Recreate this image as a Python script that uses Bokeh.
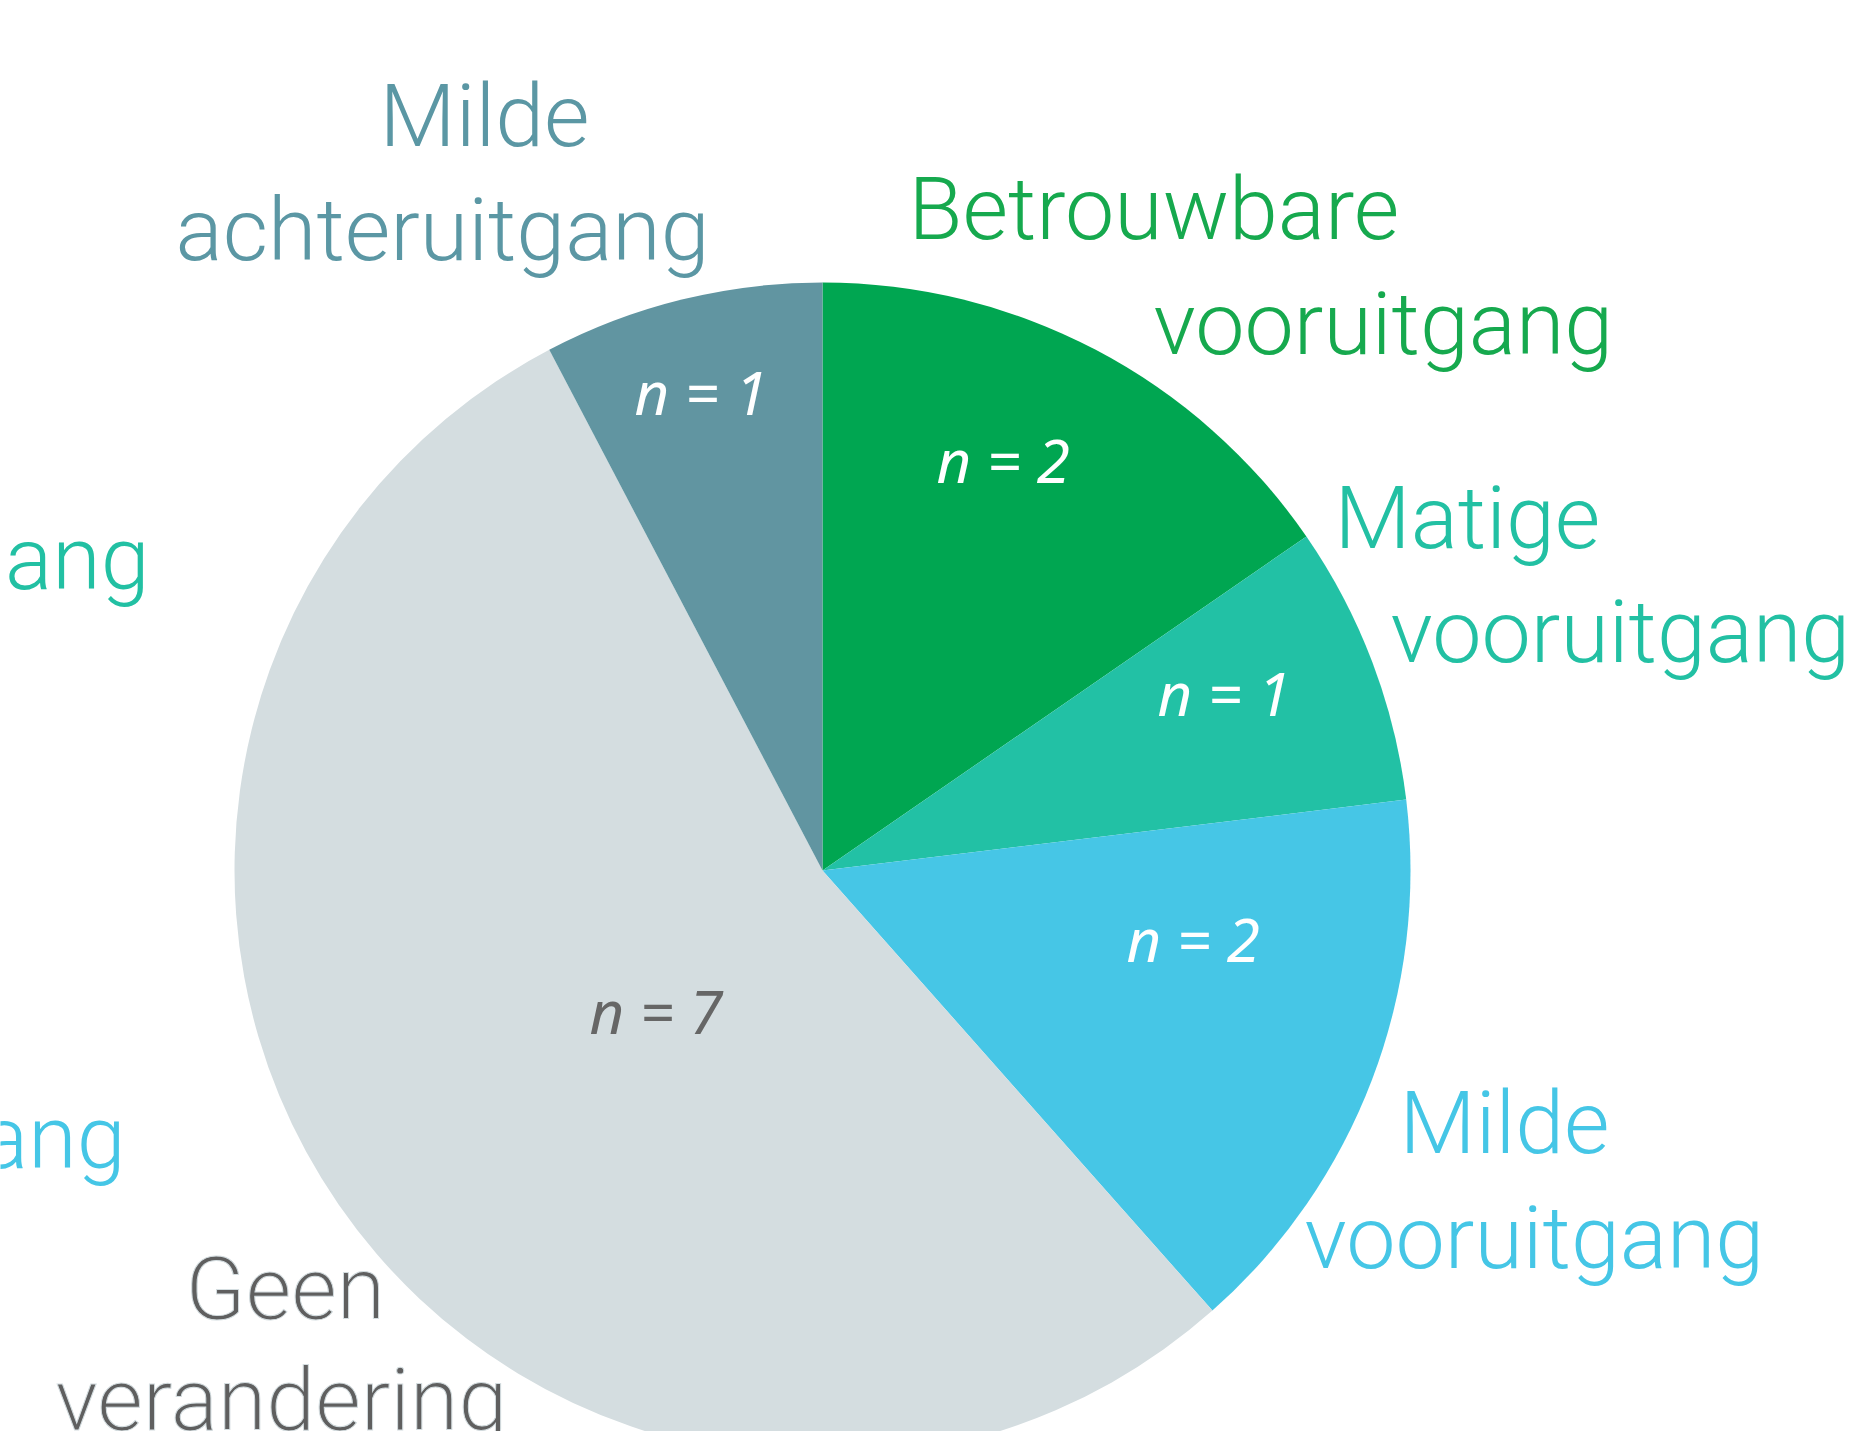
import numpy as np
from bokeh.plotting import figure
from bokeh.models import Range1d
from bokeh.core.properties import value
from bokeh.embed import file_html
from bokeh.resources import INLINE

# ---- data ----
categories = ["Betrouwbare vooruitgang", "Matige vooruitgang", "Milde vooruitgang",
              "Geen verandering", "Milde achteruitgang"]
counts = [2, 1, 2, 7, 1]
slice_colors = ["#00A651", "#22C1A5", "#46C6E6", "#D4DDE0", "#6195A1"]
label_colors = ["#16A94E", "#22C0A3", "#45C6E6", "#5F5F5F", "#5B97A4"]
halo_colors = [None, None, None, "#D4DDE0", None]
n_colors = ["#FFFFFF", "#FFFFFF", "#FFFFFF", "#666666", "#FFFFFF"]
label_lines = [["Betrouwbare", "vooruitgang"], ["Matige", "vooruitgang"],
               ["Milde", "vooruitgang"], ["Geen", "verandering"],
               ["Milde", "achteruitgang"]]
n_labels = ["n = %d" % c for c in counts]

# ---- layout (reference pixel coordinates) ----
W, H = 1857, 1431
cx, cy, R = 822, 870, 588
# per category: left x and baseline y of each label line
line_pos = [[(908, 237), (1153, 352)],
            [(1334, 546), (1390, 660)],
            [(1399, 1151), (1304, 1266)],
            [(185, 1317), (55, 1428)],
            [(379, 144), (175, 258)]]
n_pos = [(936, 483), (1157, 716), (1126, 962), (589, 1034), (634, 415)]
# cut-off labels of a neighbouring chart at the left edge (right end x, baseline y)
edge_labels = ["ang", "ang"]
edge_colors = [label_colors[1], label_colors[2]]
edge_pos = [(149, 587), (125, 1166)]

FONT = value("'Roboto Light', 'Lato Light', 'Noto Sans'")
NFONT = value("Noto Sans")
FS = 88
NFS = 60
SHIFT = 0.33   # baseline correction (fraction of font size)
NSHIFT = 0.39

p = figure(width=W, height=H, x_range=Range1d(0, W), y_range=Range1d(-H, 0),
           output_backend="svg", toolbar_location=None, min_border=0,
           background_fill_color="white", border_fill_color="white")
p.axis.visible = False
p.grid.visible = False
p.outline_line_color = None

# wedges: start at 12 o'clock, clockwise
vals = np.array(counts, dtype=float)
frac = np.cumsum(vals) / vals.sum()
frac0 = np.concatenate([[0.0], frac[:-1]])
start = np.pi / 2 - 2 * np.pi * frac
end = np.pi / 2 - 2 * np.pi * frac0
p.wedge(x=cx, y=-cy, radius=R, start_angle=start, end_angle=end,
        fill_color=slice_colors, line_color=None, direction="anticlock")

# category labels
for lines, pos, col, halo in zip(label_lines, line_pos, label_colors, halo_colors):
    kw = {}
    if halo is not None:
        kw["text_outline_color"] = halo
    p.text(x=[q[0] for q in pos], y=[-(q[1] - SHIFT * FS) for q in pos], text=lines,
           text_color=col, text_font=FONT, text_font_size="%dpx" % FS,
           text_align="left", text_baseline="alphabetic", **kw)

p.text(x=[q[0] for q in edge_pos], y=[-(q[1] - SHIFT * FS) for q in edge_pos], text=edge_labels,
       text_color=edge_colors, text_font=FONT, text_font_size="%dpx" % FS,
       text_align="right", text_baseline="alphabetic")

# n labels
p.text(x=[q[0] for q in n_pos], y=[-(q[1] - NSHIFT * NFS) for q in n_pos], text=n_labels,
       text_color=n_colors, text_font=NFONT, text_font_size="%dpx" % NFS,
       text_font_style="italic", text_align="left", text_baseline="alphabetic")

open("out.html", "w").write(file_html(p, INLINE))
